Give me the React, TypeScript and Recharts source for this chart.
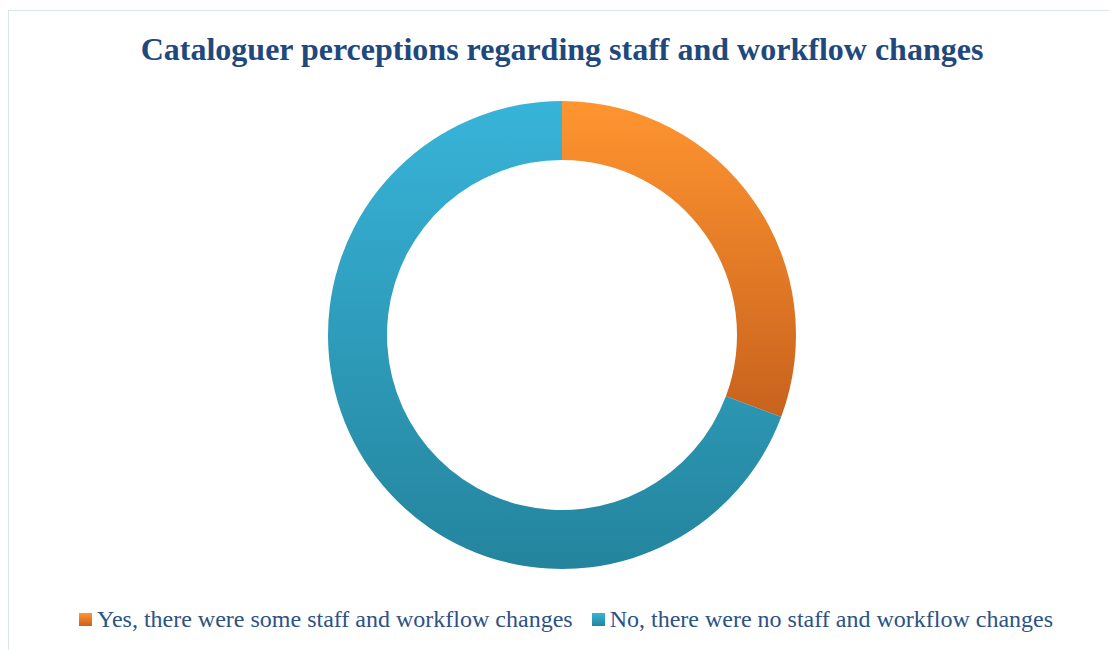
import React from 'react';
import { PieChart, Pie, Cell, Legend } from 'recharts';

const categories = [
  'Yes, there were some staff and workflow changes',
  'No, there were no staff and workflow changes',
];
const shares = [30.7, 69.3];
const gradients = [
  { id: 'gradYes', top: '#ff9530', bottom: '#c8621d' },
  { id: 'gradNo', top: '#38b4d9', bottom: '#24849d' },
];

const data = categories.map((name, i) => ({ name, value: shares[i] }));

const FONT = '"Liberation Serif", "Times New Roman", serif';

function renderLegend() {
  return (
    <div style={{ display: 'flex', justifyContent: 'center', fontFamily: FONT, fontSize: 24, color: '#2c5286', lineHeight: '28px' }}>
      {categories.map((c, i) => (
        <span key={c} style={{ display: 'inline-flex', alignItems: 'center', marginRight: i === 0 ? 19 : 0 }}>
          <span
            style={{
              display: 'inline-block',
              width: 13,
              height: 13,
              marginRight: 5,
              background: `linear-gradient(${gradients[i].top}, ${gradients[i].bottom})`,
            }}
          />
          {c}
        </span>
      ))}
    </div>
  );
}

export default function App() {
  return (
    <div style={{ position: 'absolute', left: 0, top: 0, width: 1109, height: 650, background: '#fff', overflow: 'hidden' }}>
      <div
        style={{
          position: 'absolute',
          left: 8,
          top: 10,
          width: 1200,
          height: 700,
          border: '1.5px solid #d9e4f4',
        }}
      />
      <div
        style={{
          position: 'absolute',
          left: 0,
          top: 31,
          width: 1124,
          textAlign: 'center',
          fontFamily: FONT,
          fontWeight: 'bold',
          fontSize: 32,
          color: '#1f497d',
        }}
      >
        Cataloguer perceptions regarding staff and workflow changes
      </div>
      <PieChart
        width={1109}
        height={650}
        margin={{ top: 0, right: 0, bottom: 0, left: 0 }}
        style={{ position: 'absolute', left: 0, top: 0 }}
      >
        <defs>
          {gradients.map((g) => (
            <linearGradient key={g.id} id={g.id} x1="0" y1="0" x2="0" y2="1">
              <stop offset="0%" stopColor={g.top} />
              <stop offset="100%" stopColor={g.bottom} />
            </linearGradient>
          ))}
        </defs>
        <Pie
          data={data}
          dataKey="value"
          nameKey="name"
          cx={562}
          cy={335}
          innerRadius={175}
          outerRadius={234}
          startAngle={90}
          endAngle={-270}
          stroke="none"
          isAnimationActive={false}
        >
          {data.map((d, i) => (
            <Cell key={d.name} fill={`url(#${gradients[i].id})`} />
          ))}
        </Pie>
        <Legend content={renderLegend} wrapperStyle={{ position: 'absolute', left: 0, top: 605, width: 1132 }} />
      </PieChart>
    </div>
  );
}
